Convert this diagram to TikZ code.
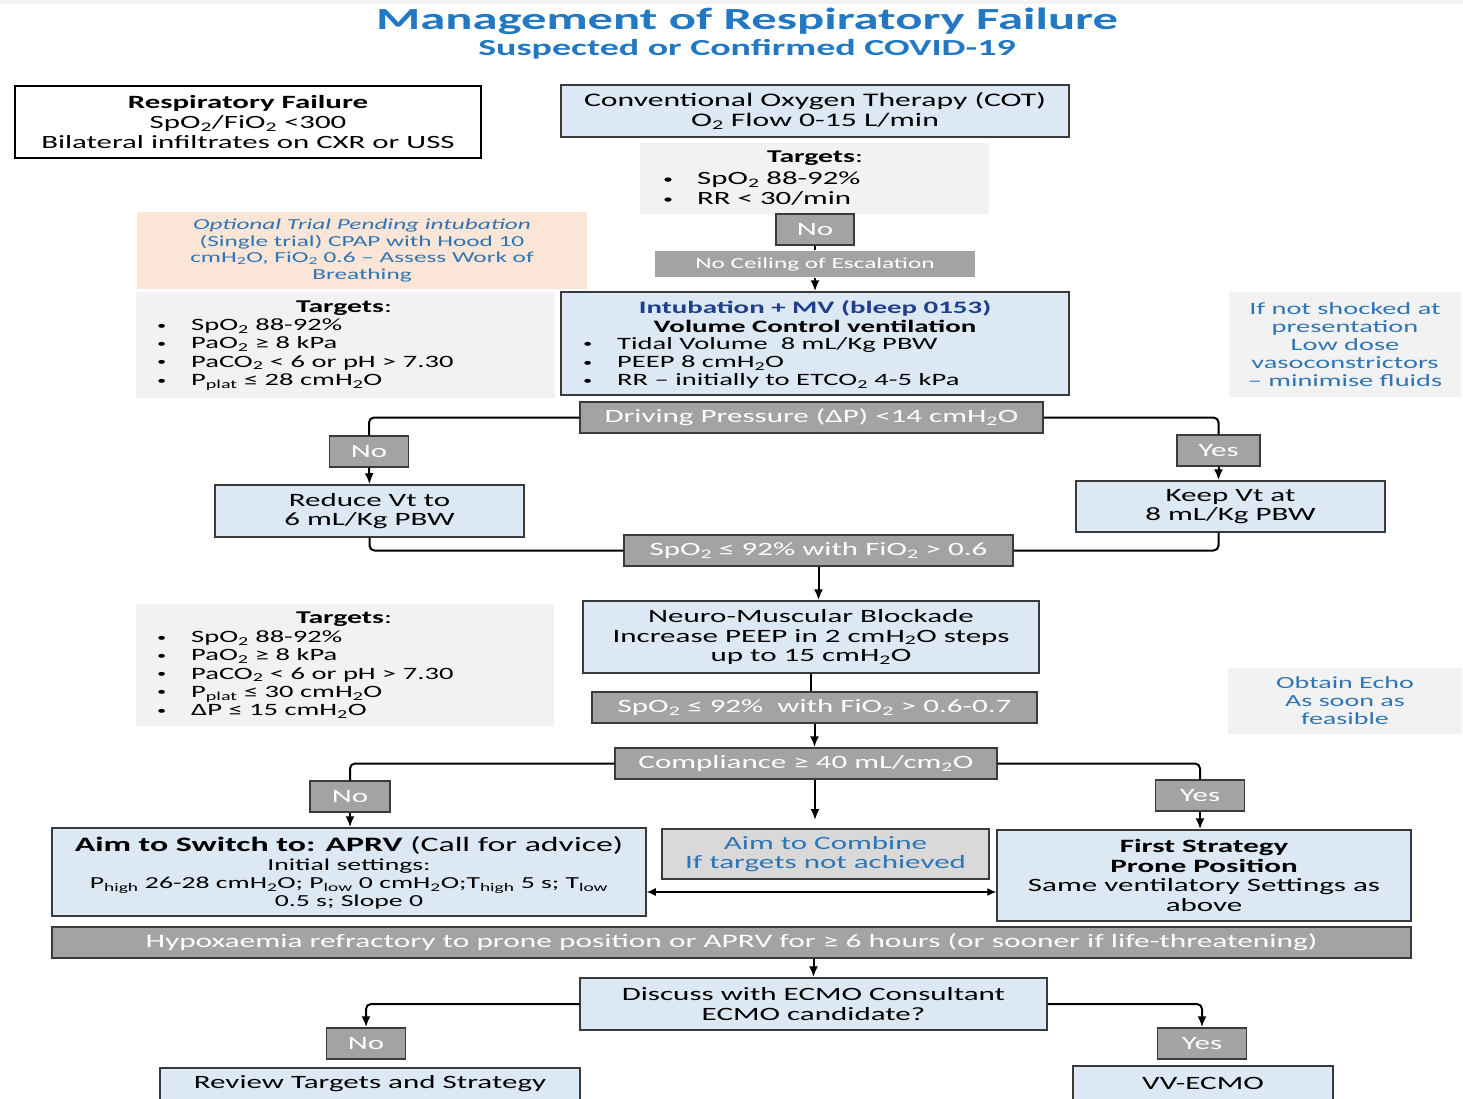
\documentclass[tikz,border=0pt]{standalone}
\usepackage{fontspec}
\setmainfont{Carlito}[FakeStretch=1.65]
\usetikzlibrary{arrows.meta}
\definecolor{paleblue}{HTML}{DDE8F5}
\definecolor{notegrey}{HTML}{F2F2F2}
\definecolor{bargrey}{HTML}{A3A3A3}
\definecolor{edge}{HTML}{3A3A3A}
\definecolor{noteblue}{HTML}{2E75B6}
\definecolor{titleblue}{HTML}{2378C3}
\definecolor{navy}{HTML}{203F8A}
\definecolor{peach}{HTML}{FBE5D6}
\definecolor{combgrey}{HTML}{D9D9D9}
\newcommand\subs[1]{\textsubscript{#1}}
\newcommand\blt{\makebox[34pt][l]{\raisebox{1.5pt}{\scalebox{0.65}{\textbullet}}}}
\tikzset{
  box/.style={draw=edge,line width=1.5pt,fill=paleblue,align=center,inner sep=0pt,font=\fontsize{18.8}{19.5}\selectfont},
  bar/.style={draw=edge,line width=1.5pt,fill=bargrey,text=white,align=center,inner sep=0pt,font=\fontsize{18.8}{19.5}\selectfont},
  note/.style={fill=notegrey,align=center,inner sep=0pt},
  list/.style={align=left,inner sep=0pt,anchor=west,font=\fontsize{17.3}{18.3}\selectfont},
  heading/.style={text=titleblue,inner sep=0pt},
  link/.style={line width=2pt,rounded corners=5pt},
  tip/.style={-{Latex[length=11pt,width=9pt]}},
}
\begin{document}
\begin{tikzpicture}[x=1pt,y=-1pt]
\useasboundingbox (0,0) rectangle (1463,1098);
\clip (0,0) rectangle (1463,1098);
\fill[notegrey] (0,0) rectangle (1463,4);

\node[heading,font=\bfseries\fontsize{30.7}{32}\selectfont] (title) at (747,21) {Management of Respiratory Failure};
\node[heading,font=\bfseries\fontsize{23}{25}\selectfont] (subtitle) at (747,49) {Suspected or Confirmed COVID-19};

\node[box,fill=white,draw=black,minimum width=466pt,minimum height=72pt,font=\fontsize{18.7}{20}\selectfont] (rf) at (248,122)
  {\textbf{Respiratory Failure}\\SpO\subs2/FiO\subs2 <300\\Bilateral infiltrates on CXR or USS};
\node[box,minimum width=508pt,minimum height=52pt,font=\fontsize{19.2}{19.5}\selectfont] (cot) at (815,111) {Conventional Oxygen Therapy (COT)\\O\subs2 Flow 0-15 L/min};

\node[note,minimum width=349pt,minimum height=71pt] (tg1) at (814.5,178.5) {};
\node[font=\fontsize{18}{20}\selectfont] (tg1h) at (815,158) {\textbf{Targets}:};
\node[list,font=\fontsize{18.7}{20}\selectfont] (tg1l) at (663,189) {\blt SpO\subs2 88-92\%\\\blt RR < 30/min};

\node[bar,minimum width=78pt,minimum height=31pt] (no1) at (815,229.5) {No};
\node[bar,draw=none,minimum width=320pt,minimum height=26pt,font=\fontsize{15.3}{16}\selectfont] (ceil) at (815,264) {No Ceiling of Escalation};

\node[fill=peach,minimum width=450pt,minimum height=77pt,align=center,inner sep=0pt,text=noteblue,font=\fontsize{15.3}{16.4}\selectfont] (trial) at (362,250.5)
  {\textit{Optional Trial Pending intubation}\\(Single trial) CPAP with Hood 10\\cmH\subs2O, FiO\subs2 0.6 -- Assess Work of\\Breathing};

\node[note,minimum width=419pt,minimum height=106pt] (tg2) at (345.5,345) {};
\node[font=\fontsize{18}{20}\selectfont] (tg2h) at (344,308) {\textbf{Targets}:};
\node[list] (tg2l) at (157,354.5) {\blt SpO\subs2 88-92\%\\\blt PaO\subs2 ≥ 8 kPa\\\blt PaCO\subs2 < 6 or pH > 7.30\\\blt P\subs{plat} ≤ 28 cmH\subs2O};

\node[box,minimum width=508pt,minimum height=103pt] (intub) at (815,343.5) {};
\node[text=navy,font=\bfseries\fontsize{17.5}{19}\selectfont] (intubh) at (815,308) {Intubation + MV (bleep 0153)};
\node[font=\bfseries\fontsize{17.5}{19}\selectfont] (intubs) at (815,326) {Volume Control ventilation};
\node[list] (intubl) at (583,363) {\blt Tidal Volume\ \ 8 mL/Kg PBW\\\blt PEEP 8 cmH\subs2O\\\blt RR -- initially to ETCO\subs2 4-5 kPa};

\node[note,text=noteblue,minimum width=232pt,minimum height=105pt,font=\fontsize{17.2}{18}\selectfont] (shock) at (1345,344.5)
  {If not shocked at\\presentation\\Low dose\\vasoconstrictors\\-- minimise fluids};

\node[bar,minimum width=463pt,minimum height=31pt] (dp) at (811.5,417.5) {Driving Pressure (ΔP) <14 cmH\subs2O};
\node[bar,minimum width=79pt,minimum height=31pt] (no2) at (369,451.5) {No};
\node[bar,minimum width=83pt,minimum height=31pt] (yes1) at (1218.5,450.5) {Yes};
\node[box,minimum width=309pt,minimum height=52pt] (red) at (369.5,511) {Reduce Vt to\\6 mL/Kg PBW};
\node[box,minimum width=309pt,minimum height=51pt] (keep) at (1230.5,506.5) {Keep Vt at\\8 mL/Kg PBW};
\node[bar,minimum width=389pt,minimum height=31pt] (sp1) at (818.5,550.5) {SpO\subs2 ≤ 92\% with FiO\subs2 > 0.6};

\node[box,minimum width=456pt,minimum height=72pt] (nmb) at (811,637) {Neuro-Muscular Blockade\\Increase PEEP in 2 cmH\subs2O steps\\up to 15 cmH\subs2O};
\node[bar,minimum width=445pt,minimum height=31pt] (sp2) at (814.5,707.5) {SpO\subs2 ≤ 92\%\ \ with FiO\subs2 > 0.6-0.7};

\node[note,minimum width=418pt,minimum height=122pt] (tg3) at (345,665) {};
\node[font=\fontsize{18}{20}\selectfont] (tg3h) at (344,619) {\textbf{Targets}:};
\node[list] (tg3l) at (157,674.5) {\blt SpO\subs2 88-92\%\\\blt PaO\subs2 ≥ 8 kPa\\\blt PaCO\subs2 < 6 or pH > 7.30\\\blt P\subs{plat} ≤ 30 cmH\subs2O\\\blt ΔP ≤ 15 cmH\subs2O};

\node[note,text=noteblue,minimum width=234pt,minimum height=66pt,font=\fontsize{17}{18}\selectfont] (echo) at (1345,701) {Obtain Echo\\As soon as\\feasible};

\node[bar,minimum width=382pt,minimum height=31pt] (comp) at (806,763.5) {Compliance ≥ 40 mL/cm\subs2O};
\node[bar,minimum width=80pt,minimum height=31pt] (no3) at (350,796.5) {No};
\node[bar,minimum width=89pt,minimum height=31pt] (yes2) at (1200,795.5) {Yes};

\node[box,minimum width=594pt,minimum height=88pt] (aprv) at (349,872) {};
\node[font=\fontsize{20.5}{22}\selectfont] (aprvh) at (349,845) {\textbf{Aim to Switch to: APRV} (Call for advice)};
\node[align=center,font=\fontsize{16.8}{18}\selectfont] (aprvs) at (349,884) {Initial settings:\\P\subs{high} 26-28 cmH\subs2O; P\subs{low} 0 cmH\subs2O;T\subs{high} 5 s; T\subs{low}\\0.5 s; Slope 0};
\node[box,fill=combgrey,text=noteblue,minimum width=327pt,minimum height=50pt] (comb) at (825.5,854) {Aim to Combine\\If targets not achieved};
\node[box,minimum width=414pt,minimum height=91pt] (prone) at (1204,875.5) {\textbf{First Strategy}\\\textbf{Prone Position}\\Same ventilatory Settings as\\above};

\node[bar,minimum width=1359pt,minimum height=31pt,font=\fontsize{19}{19.5}\selectfont] (hyp) at (731.5,942.5) {Hypoxaemia refractory to prone position or APRV for ≥ 6 hours (or sooner if life-threatening)};
\node[box,minimum width=467pt,minimum height=52pt] (ecmo) at (813.5,1004) {Discuss with ECMO Consultant\\ECMO candidate?};
\node[bar,minimum width=79pt,minimum height=31pt] (no4) at (366,1043.5) {No};
\node[bar,minimum width=89pt,minimum height=31pt] (yes3) at (1202,1043.5) {Yes};
\node[box,minimum width=420pt,minimum height=32pt] (rev) at (370,1084) {Review Targets and Strategy};
\node[box,minimum width=260pt,minimum height=34pt] (vv) at (1203,1083) {VV-ECMO};

\coordinate (gap) at (815,820);
\coordinate (level) at (0,892);
\draw[link] (no1.south) -- (ceil.north);
\draw[link,tip] (ceil.south) -- (intub.north);
\draw[link] (dp.west) -| (no2.north);
\draw[link,tip] (no2.south) -- (red.north);
\draw[link] (dp.east) -| (yes1.north);
\draw[link,tip] (yes1.south) -- (yes1.south |- keep.north);
\draw[link] (red.south) |- (sp1.west);
\draw[link] (yes1.south |- keep.south) |- (sp1.east);
\draw[link,tip] (sp1.south) -- (sp1.south |- nmb.north);
\draw[link] (nmb.south) -- (nmb.south |- sp2.north);
\draw[link,tip] (sp2.south) -- (sp2.south |- comp.north);
\draw[link] (comp.west) -| (no3.north);
\draw[link,tip] (no3.south) -- (no3.south |- aprv.north);
\draw[link] (comp.east) -| (yes2.north);
\draw[link,tip] (yes2.south) -- (yes2.south |- prone.north);
\draw[link,tip] (gap |- comp.south) -- (gap);
\draw[line width=1.2pt,{Latex[length=9pt,width=8pt]}-{Latex[length=9pt,width=8pt]}] (aprv.east |- level) -- (prone.west |- level);
\draw[link,tip] (ecmo.north |- hyp.south) -- (ecmo.north);
\draw[link,tip] (ecmo.west) -| (no4.north);
\draw[link,tip] (ecmo.east) -| (yes3.north);
\end{tikzpicture}
\end{document}
